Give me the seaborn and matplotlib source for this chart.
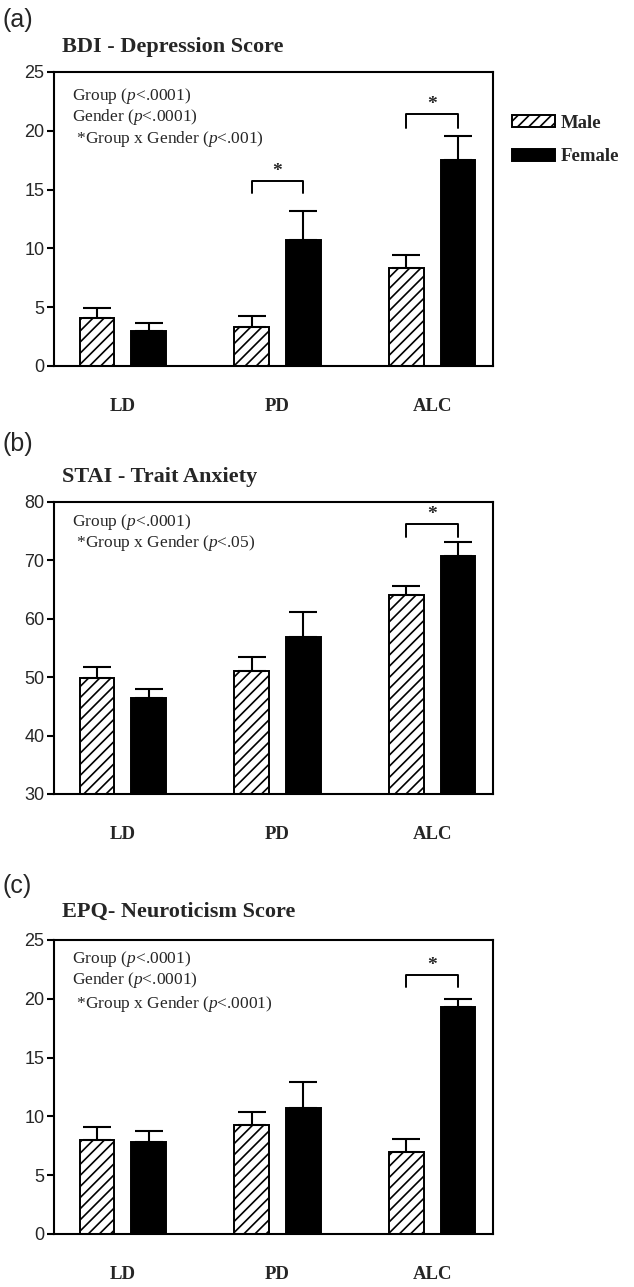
import pandas as pd
import numpy as np
import seaborn as sns
import matplotlib.pyplot as plt

groups = ['LD', 'PD', 'ALC']
sexes = ['Male', 'Female']

bdi_male = [4.1, 3.3, 8.3]
bdi_male_se = [0.85, 0.95, 1.1]
bdi_female = [3.0, 10.7, 17.5]
bdi_female_se = [0.65, 2.5, 2.1]

stai_male = [49.8, 51.0, 64.0]
stai_male_se = [2.0, 2.5, 1.6]
stai_female = [46.4, 56.8, 70.8]
stai_female_se = [1.5, 4.4, 2.3]

epq_male = [8.0, 9.25, 7.0]
epq_male_se = [1.1, 1.1, 1.1]
epq_female = [7.8, 10.7, 19.3]
epq_female_se = [1.0, 2.2, 0.7]

titles = ['BDI - Depression Score', 'STAI - Trait Anxiety', 'EPQ- Neuroticism Score']
panel_tags = ['(a)', '(b)', '(c)']
stats_text = [
    ['Group ($p$<.0001)', 'Gender ($p$<.0001)', ' *Group x Gender ($p$<.001)'],
    ['Group ($p$<.0001)', ' *Group x Gender ($p$<.05)'],
    ['Group ($p$<.0001)', 'Gender ($p$<.0001)', ' *Group x Gender ($p$<.0001)'],
]
# significance brackets: (group index, leg bottom, bracket top)
brackets = [
    [(1, 14.75, 15.7), (2, 20.2, 21.4)],
    [(2, 74.0, 76.2)],
    [(2, 21.0, 22.0)],
]
ylims = [(0, 25), (30, 80), (0, 25)]
yticks = [np.arange(0, 26, 5), np.arange(30, 81, 10), np.arange(0, 26, 5)]

panels = [
    (bdi_male, bdi_male_se, bdi_female, bdi_female_se),
    (stai_male, stai_male_se, stai_female, stai_female_se),
    (epq_male, epq_male_se, epq_female, epq_female_se),
]

sns.set_style('ticks')
plt.rcParams['font.family'] = ['Liberation Sans', 'DejaVu Sans']
plt.rcParams['mathtext.fontset'] = 'custom'
plt.rcParams['mathtext.it'] = 'Liberation Serif:italic'
plt.rcParams['mathtext.rm'] = 'Liberation Serif'
plt.rcParams['hatch.linewidth'] = 1.2

W, H = 634, 1287
fig = plt.figure(figsize=(W / 100, H / 100), dpi=100)

# axes boxes in pixels: (top, bottom)
boxes = [(72, 366), (502, 794), (940, 1234)]
left_px, right_px = 54, 493
tag_y = [20, 444, 886]
title_y = [47, 477, 912]
stat_y = [[0.92, 0.848, 0.772], [0.932, 0.858], [0.936, 0.864, 0.784]]

serif = 'Liberation Serif'

for i, (m, mse, f, fse) in enumerate(panels):
    top, bot = boxes[i]
    ax = fig.add_axes([left_px / W, 1 - bot / H, (right_px - left_px) / W, (bot - top) / H])

    df = pd.DataFrame({
        'group': groups * 2,
        'sex': ['Male'] * 3 + ['Female'] * 3,
        'value': list(m) + list(f),
    })
    sns.barplot(data=df, x='group', y='value', hue='sex', hue_order=sexes, order=groups,
                palette=['white', 'black'], edgecolor='black', linewidth=1.4,
                width=0.67, gap=0.33, errorbar=None, legend=False, ax=ax)

    for bar in ax.containers[0]:
        bar.set_hatch('///')

    # one-sided error bars on top of the bars
    for cont, err in zip(ax.containers, [mse, fse]):
        xs = [b.get_x() + b.get_width() / 2 for b in cont]
        ys = [b.get_height() for b in cont]
        ax.errorbar(xs, ys, yerr=[np.zeros(len(err)), err], fmt='none', ecolor='black',
                    elinewidth=1.5, capsize=10, capthick=1.5, zorder=3)

    for gi, y0, y1 in brackets[i]:
        bm = ax.containers[0][gi]
        bf = ax.containers[1][gi]
        x0 = bm.get_x() + bm.get_width() / 2
        x1 = bf.get_x() + bf.get_width() / 2
        ax.plot([x0, x0, x1, x1], [y0, y1, y1, y0], color='black', lw=1.4, clip_on=False)
        span = ylims[i][1] - ylims[i][0]
        ax.text((x0 + x1) / 2, y1 + 0.005 * span, '*', ha='center', va='bottom',
                family=serif, fontweight='bold', fontsize=14)

    for line, yy in zip(stats_text[i], stat_y[i]):
        ax.text(0.04, yy, line, transform=ax.transAxes, ha='left', va='center',
                family=serif, fontsize=12.5)

    ax.set_xlim(-0.445, 2.393)
    ax.set_ylim(*ylims[i])
    ax.set_yticks(yticks[i])
    ax.set_xlabel('')
    ax.set_ylabel('')
    for s in ax.spines.values():
        s.set_visible(True)
        s.set_linewidth(1.5)
        s.set_color('black')
    ax.tick_params(axis='y', length=5, width=1.5, labelsize=13, pad=2, color='black')
    ax.tick_params(axis='x', length=0, pad=23)
    for lab in ax.get_xticklabels():
        lab.set_family(serif)
        lab.set_fontweight('bold')
        lab.set_fontsize(13.5)

    fig.text(3 / W, 1 - tag_y[i] / H, panel_tags[i], ha='left', va='center', fontsize=18)
    fig.text(62 / W, 1 - title_y[i] / H, titles[i], ha='left', va='center',
             family=serif, fontweight='bold', fontsize=16)

    if i == 0:
        ax.legend(handles=[ax.containers[0][0], ax.containers[1][0]], labels=sexes,
                  loc='center left', bbox_to_anchor=(512 / W, 1 - 140 / H),
                  bbox_transform=fig.transFigure, frameon=False,
                  prop={'family': serif, 'weight': 'bold', 'size': 13.5},
                  handlelength=2.3, handleheight=0.6, handletextpad=0.3,
                  labelspacing=0.9, borderaxespad=0, borderpad=0)

fig.savefig('out.png', dpi=100, facecolor='white')
